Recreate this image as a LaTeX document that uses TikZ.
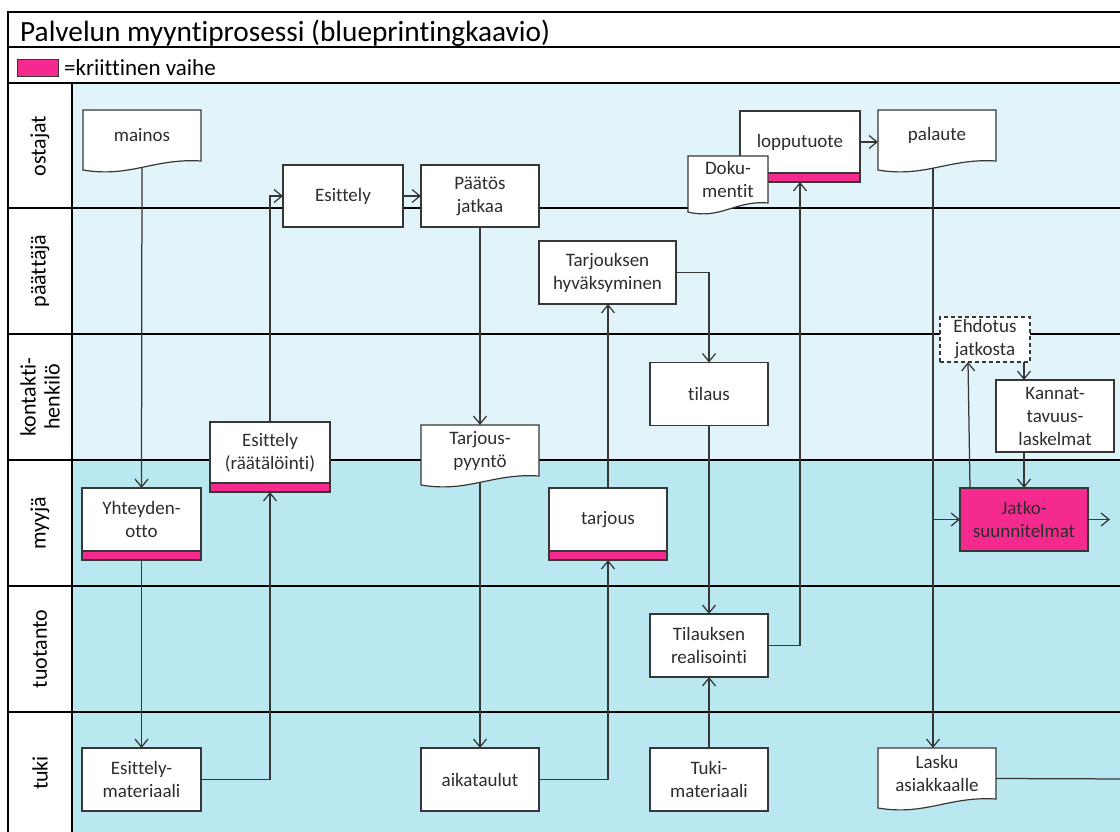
\documentclass[tikz,border=0pt]{standalone}
\usepackage{fontspec}
\setmainfont{Carlito}[Ligatures=NoCommon]
\usetikzlibrary{arrows.meta,calc}

\definecolor{laneLight}{RGB}{224,244,249}
\definecolor{laneDark}{RGB}{185,232,240}
\definecolor{crit}{RGB}{245,42,142}
\definecolor{ink}{RGB}{45,45,45}
\definecolor{edgegray}{RGB}{55,55,55}

\pgfdeclarelayer{under}
\pgfsetlayers{under,main}

\tikzset{
  boxfont/.style={font=\fontsize{19}{23}\selectfont},
  box/.style={draw=edgegray, line width=1.2pt, fill=white, text=ink, align=center,
    boxfont, inner sep=0pt, outer sep=0pt},
  critbar/.style={draw=edgegray, line width=1.2pt, fill=crit, inner sep=0pt,
    outer sep=0pt, minimum height=9},
  docgeom/.style={inner sep=0pt, outer sep=0pt, draw=none, fill=none},
  docline/.style={draw=edgegray, line width=1.2pt, fill=white},
  boxtext/.style={text=ink, align=center, boxfont, inner sep=0pt},
  conn/.style={draw=edgegray, line width=1.25pt, -{Straight Barb[length=8pt,width=13pt]}},
  plainconn/.style={draw=edgegray, line width=1.25pt},
  laneline/.style={line width=2pt, draw=black},
  lanelabel/.style={rotate=90, align=center, font=\fontsize{22}{24}\selectfont, text=black},
}

% document symbol: flat top, wavy bottom edge
\newcommand\docnode[6]{%
  \node[docgeom, minimum width=#4, minimum height=#5] (#1) at (#2,#3) {};
  \draw[docline] (#1.north west) -- (#1.north east) -- (#1.south east)
    .. controls ($(#1.south east)!0.4!(#1.south west)+(0,-3)$)
       and ($(#1.south west)!0.4!(#1.south east)+(0,17)$)
    .. ($(#1.south west)+(0,9)$) -- cycle;
  \node[boxtext] (#1-text) at (#1) {#6};
}

\begin{document}
\begin{tikzpicture}[x=1pt, y=-1pt]
\useasboundingbox (0,0) rectangle (1120,832);
\clip (0,0) rectangle (1120,832);

% ---------- frame and swim lanes ----------
\begin{pgfonlayer}{under}
  \fill[white] (0,0) rectangle (1120,832);
  \fill[laneLight] (72,83) rectangle (1130,460);
  \fill[laneDark] (72,460) rectangle (1130,845);
  \draw[laneline] (8,845) -- (8,12) -- (1130,12);
  \draw[laneline] (8,47) -- (1130,47);
  \draw[laneline] (8,83) -- (1130,83);
  \foreach \yy in {208,334,460,586,712}
    \draw[laneline] (8,\yy) -- (1130,\yy);
  \draw[laneline] (72,83) -- (72,845);
  \node[lanelabel] (lane-ostajat) at (40,146) {ostajat};
  \node[lanelabel] (lane-paattaja) at (40,271) {päättäjä};
  \node[lanelabel] (lane-kontakti) at (40,397) {kontakti-\\henkilö};
  \node[lanelabel] (lane-myyja) at (40,523) {myyjä};
  \node[lanelabel] (lane-tuotanto) at (40,649) {tuotanto};
  \node[lanelabel] (lane-tuki) at (40,773) {tuki};
\end{pgfonlayer}

% ---------- title and legend ----------
\node[anchor=base west, font=\fontsize{29.3}{29.3}\selectfont, inner sep=0pt] (title) at (20,42)
  {Palvelun myyntiprosessi (blueprintingkaavio)};
\node[draw=edgegray, line width=1pt, fill=crit, minimum width=41, minimum height=17, inner sep=0pt]
  (legendkey) at (37.5,68) {};
\node[anchor=base west, font=\fontsize{23}{23}\selectfont, inner sep=0pt] (legendtext) at (64,76)
  {=kriittinen vaihe};

% ---------- ostajat ----------
\docnode{mainos}{142}{135.5}{118}{51}{mainos}
\node[box, minimum width=120, minimum height=62] (esittely) at (343,196) {Esittely};
\node[box, minimum width=118, minimum height=62] (paatos) at (480,196) {Päätös\\jatkaa};
\node[box, minimum width=120, minimum height=62] (loppu) at (800,142) {lopputuote};
\node[critbar, minimum width=120, anchor=north] (loppu-bar) at (loppu.south) {};
\docnode{dok}{728}{179.5}{80}{47}{Doku-\\mentit}
\docnode{palaute}{937}{135.5}{118}{51}{palaute}

% ---------- päättäjä ----------
\node[box, minimum width=137, minimum height=63] (thyv) at (607.5,272.5) {Tarjouksen\\hyväksyminen};

% ---------- kontaktihenkilö ----------
\node[box, minimum width=118, minimum height=63] (tilaus) at (709,394) {tilaus};
\node[box, dash pattern=on 4pt off 3pt, minimum width=90, minimum height=45] (ehd) at (985,339.5) {Ehdotus\\jatkosta};
\node[box, minimum width=118, minimum height=72] (kanna) at (1055,416) {Kannat-\\tavuus-\\laskelmat};
\node[box, minimum width=120, minimum height=61] (esr) at (270,452.5) {Esittely\\(räätälöinti)};
\node[critbar, minimum width=120, anchor=north] (esr-bar) at (esr.south) {};
\docnode{tpy}{480}{450.5}{118}{51}{Tarjous-\\pyyntö}

% ---------- myyjä ----------
\node[box, minimum width=119, minimum height=63] (yht) at (141.5,519.5) {Yhteyden-\\otto};
\node[critbar, minimum width=119, anchor=north] (yht-bar) at (yht.south) {};
\node[box, minimum width=118, minimum height=63] (tarj) at (608,519.5) {tarjous};
\node[critbar, minimum width=118, anchor=north] (tarj-bar) at (tarj.south) {};
\node[box, fill=crit, minimum width=128, minimum height=63] (jatko) at (1024,519.5) {Jatko-\\suunnitelmat};

% ---------- tuotanto ----------
\node[box, minimum width=118, minimum height=63] (treal) at (709,645.5) {Tilauksen\\realisointi};

% ---------- tuki ----------
\node[box, minimum width=119, minimum height=63] (esmat) at (141.5,779.5) {Esittely-\\materiaali};
\node[box, minimum width=118, minimum height=63] (aika) at (480,779.5) {aikataulut};
\node[box, minimum width=118, minimum height=63] (tukim) at (709,779.5) {Tuki-\\materiaali};
\docnode{lasku}{937}{773.5}{118}{51}{Lasku\\asiakkaalle}

% ---------- connectors ----------
\coordinate (fork) at ($(palaute.south |- jatko.west)+(-4,0)$);
\coordinate (jatko-out) at ($(jatko.east)+(22,0)$);
\coordinate (lasku-exit) at ($(lasku.east)+(0,5)$);
\coordinate (lasku-out) at (1130,779);
\begin{pgfonlayer}{under}
  \draw[conn] (mainos.south) -- (yht.north);
  \draw[conn] (yht-bar.south) -- (esmat.north);
  \draw[conn] (esmat.east) -| (esr-bar.south);
  \draw[conn] (esr.north) |- (esittely.west);
  \draw[conn] (esittely.east) -- (paatos.west);
  \draw[conn] (paatos.south) -- (tpy.north);
  \draw[conn] (tpy.south) -- (aika.north);
  \draw[conn] (aika.east) -| (tarj-bar.south);
  \draw[conn] (tarj.north) -- (tarj.north |- thyv.south);
  \draw[conn] (thyv.east) -| (tilaus.north);
  \draw[conn] (tilaus.south) -- (treal.north);
  \draw[conn] (tukim.north) -- (treal.south);
  \draw[conn] (treal.east) -| (loppu-bar.south);
  \draw[conn] (loppu.east) -- (loppu.east -| palaute.west);
  \draw[conn] ($(palaute.south)+(-4,0)$) -- ($(lasku.north)+(-4,0)$);
  \draw[conn] (fork) -- (jatko.west);
  \draw[conn] ($(jatko.north)+(-54,0)$) -- ($(ehd.south)+(-17,0)$);
  \draw[conn] (ehd.south -| jatko.north) -- (kanna.north -| jatko.north);
  \draw[conn] (kanna.south -| jatko.north) -- (jatko.north);
  \draw[conn] (jatko.east) -- (jatko-out);
  \draw[plainconn] (lasku-exit) -- (lasku-out);
\end{pgfonlayer}
\end{tikzpicture}
\end{document}
